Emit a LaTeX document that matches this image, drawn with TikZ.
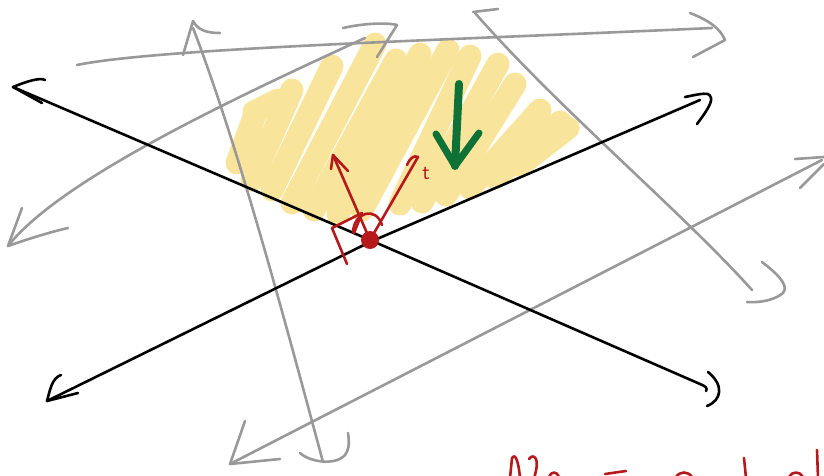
\documentclass[tikz,border=0pt]{standalone}
\usepackage{tikz}
\usetikzlibrary{positioning}
\definecolor{sketchgray}{HTML}{999999}
\definecolor{scribbleyellow}{HTML}{F9E49B}
\definecolor{penred}{HTML}{B5191C}
\definecolor{pengreen}{HTML}{0E7236}

\begin{document}
\begin{tikzpicture}[x=1pt,y=-1pt]

%--------------------------------------------------
% STYLES
%--------------------------------------------------

\tikzset{
pen/.style={
line width=2.6pt,
line cap=round,
line join=round
},
grayline/.style={pen,draw=sketchgray},
blackline/.style={pen,draw=black},
redline/.style={pen,draw=penred},
scribble/.style={
draw=scribbleyellow,
line width=23pt,
line cap=round
}
}

\useasboundingbox (0,0) rectangle (824,476);

%--------------------------------------------------
% YELLOW SCRIBBLE
%--------------------------------------------------

\draw[scribble] (237,163)--(256,112);
\draw[scribble] (254,112)--(278,100);
\draw[scribble] (252,180)--(292,90);
\draw[scribble] (272,190)--(332,66);
\draw[scribble] (292,203)--(375,44);
\draw[scribble] (314,210)--(396,60);
\draw[scribble] (338,214)--(420,54);
\draw[scribble] (362,210)--(448,50);
\draw[scribble] (400,204)--(470,56);
\draw[scribble] (422,202)--(498,64);
\draw[scribble] (446,195)--(515,84);
\draw[scribble] (470,188)--(540,110);
\draw[scribble] (495,178)--(560,122);
\draw[scribble] (520,165)--(568,128);

%--------------------------------------------------
% GRAY LINES
%--------------------------------------------------

\draw[grayline] (77,65) .. controls (160,48) and (450,40) .. (712,28);
\draw[grayline] (690,13) .. controls (708,20) and (720,28) .. (725,40)
  -- (693,57);

\draw[grayline] (193,28) .. controls (240,150) and (290,340) .. (323,462);
\draw[grayline] (183,55)--(193,21) .. controls (198,30) and (206,33) .. (220,33);
\draw[grayline] (300,453) .. controls (310,462) and (335,466) .. (345,455)
  .. controls (350,448) and (349,440) .. (348,433);

\draw[grayline] (365,38) .. controls (230,100) and (60,180) .. (8,246);
\draw[grayline] (343,28) .. controls (360,24) and (385,22) .. (397,25)
  -- (377,57);
\draw[grayline] (22,208)--(8,246) .. controls (25,240) and (50,232) .. (68,228);

\draw[grayline] (475,13) .. controls (560,110) and (680,210) .. (752,290);
\draw[grayline] (473,12)--(498,9);
\draw[grayline] (762,262) .. controls (775,272) and (790,285) .. (783,293)
  .. controls (775,300) and (760,303) .. (747,302);

\draw[grayline] (230,464)--(822,160);
\draw[grayline] (795,159)--(824,157);
\draw[grayline] (824,164)--(800,188);
\draw[grayline] (245,421)--(230,464)--(280,459);

%--------------------------------------------------
% BLACK LINES
%--------------------------------------------------

\draw[blackline] (13,87)--(370,240)--(700,384) .. controls (705,386) and (708,388) .. (706,391);
\draw[blackline] (45,80) .. controls (40,77) and (25,82) .. (13,87) -- (42,103);
\draw[blackline] (708,372) .. controls (724,385) and (722,400) .. (707,406);

\draw[blackline] (47,401)--(370,242)--(700,100);
\draw[blackline] (61,375) .. controls (52,378) and (50,390) .. (47,401) -- (78,393);
\draw[blackline] (685,97) .. controls (695,95) and (703,93) .. (708,94)
  .. controls (714,98) and (712,104) .. (697,124);

%--------------------------------------------------
% RED PIVOT AND VECTORS
%--------------------------------------------------

\coordinate (normaltip) at (333,155);
\coordinate (tangenttip) at (418,157);
\coordinate (cornerleft) at (332,228);
\coordinate (cornertop) at (362,213);
\coordinate (tickend) at (347,264);

\node[circle,fill=penred,inner sep=0pt,minimum size=18pt] (pivot) at (370,240) {};

\draw[redline] (pivot.center)--(normaltip);
\draw[redline] (331,169)--(normaltip)--(348,171);

\draw[redline] (pivot.center)--(tangenttip);
\draw[redline] (407,165) .. controls (410,158) and (414,155) .. (tangenttip);

\node[text=penred,font=\sffamily\fontsize{22}{22}\selectfont] (tlabel) at (426,174) {t};

\draw[redline] (tickend)--(cornerleft)--(cornertop)--(354,233);
\draw[redline] (353,232) .. controls (354,212) and (376,206) .. (382,225);

%--------------------------------------------------
% GREEN ARROW
%--------------------------------------------------

\coordinate (greentop) at (459,84);
\coordinate (greentip) at (455,166);

\draw[pengreen,line width=8pt,line cap=round] (greentop)--(greentip);
\draw[pengreen,line width=7pt,line cap=round,line join=round]
  (436,134)--(greentip)--(479,133);

%--------------------------------------------------
% CUT-OFF NOTE AT THE BOTTOM
%--------------------------------------------------

\draw[redline] (510,478)--(512,458) .. controls (514,454) and (518,456) .. (520,478);
\draw[redline] (529,459) .. controls (533,453) and (541,457) .. (534,478);
\draw[redline] (549,477) .. controls (551,471) and (557,471) .. (559,477);
\draw[redline] (605,474)--(626,471);
\draw[redline] (676,477) .. controls (680,471) and (688,471) .. (692,477);
\draw[redline] (744,458)--(746,478);
\draw[redline] (789,477) .. controls (792,471) and (800,471) .. (803,477);
\draw[redline] (817,450)--(818,478);

\end{tikzpicture}
\end{document}
